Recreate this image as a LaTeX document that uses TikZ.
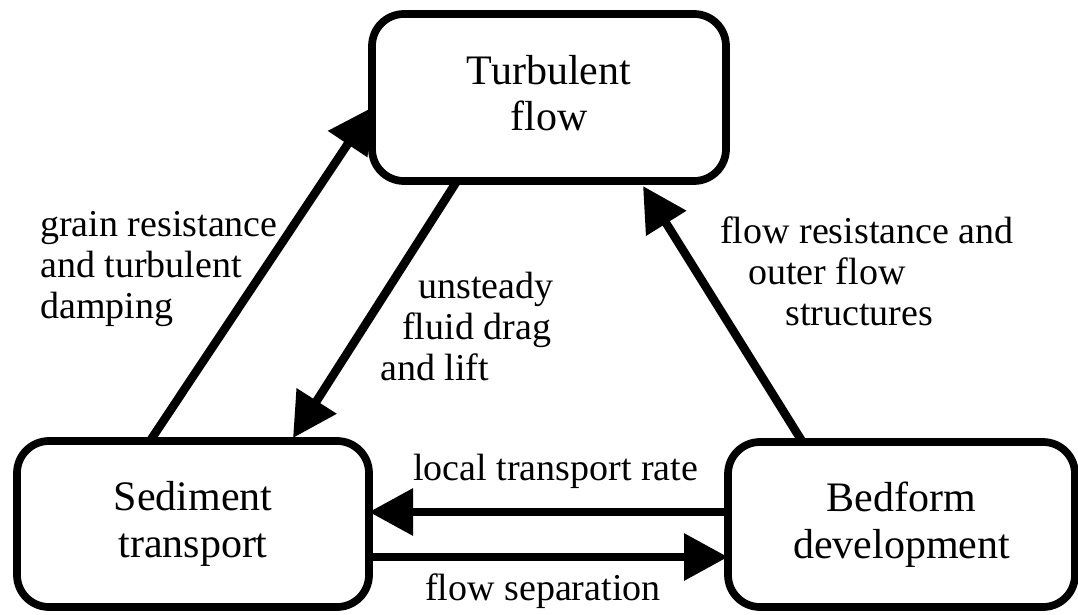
\documentclass[tikz,border=0pt]{standalone}
\usepackage{fontspec}
\setmainfont{Liberation Serif}
\usetikzlibrary{arrows.meta,calc}
\begin{document}
\begin{tikzpicture}[x=0.75pt,y=-0.75pt,
  boxnode/.style={draw=black, line width=5.8pt, rounded corners=24pt, outer sep=0pt,
    align=center, inner sep=0pt, font=\fontsize{31.5}{35}\selectfont},
  edgelabel/.style={align=left, inner sep=0pt, anchor=base west,
    font=\fontsize{28.5}{30.75}\selectfont},
  flowarrow/.style={line width=6.4pt, -{Triangle[length=33pt,width=34pt]}}
]
\useasboundingbox (0,0) rectangle (1078,614);
\fill[white] (0,0) rectangle (1078,614);

\node[boxnode, minimum width=265.5pt, minimum height=125.25pt] (tur) at (549,97.5)
  {Turbulent\\flow\vphantom{p}};
\node[boxnode, minimum width=264pt, minimum height=124.5pt] (sed) at (193,524)
  {Sediment\\transport};
\node[boxnode, minimum width=260.25pt, minimum height=123.75pt] (bed) at (901.5,524.5)
  {Bedform\\development};

% grain resistance
\draw[flowarrow] ($(sed.north)+(-43,0)$) -- ($(tur.west)+(0,10)$);
% unsteady fluid drag
\draw[flowarrow] ($(tur.south)+(-92,0)$) -- ($(sed.north)+(100,-3)$);
% flow resistance
\draw[flowarrow] ($(bed.north)+(-99,0)$) -- ($(tur.south)+(94,5)$);
% local transport rate
\draw[flowarrow] ($(bed.west)+(0,-12.5)$) -- ($(sed.east)+(0,-12)$);
% flow separation
\draw[flowarrow] ($(sed.east)+(0,33)$) -- ($(bed.west)+(0,32.5)$);

\node[edgelabel] (lgrain) at (40,318) {grain resistance\\and turbulent\\damping};
\node[edgelabel] (lunst) at (380,380) {\hspace*{28.5pt}unsteady\\\hspace*{16.5pt}fluid drag\\and lift};
\node[edgelabel] (lfres) at (720,325) {flow resistance and\\\hspace*{21pt}outer flow\\\hspace*{48.75pt}structures};
\node[edgelabel] (lltr) at (413,480) {local transport rate};
\node[edgelabel] (lsep) at (425,600) {flow separation};
\end{tikzpicture}
\end{document}
